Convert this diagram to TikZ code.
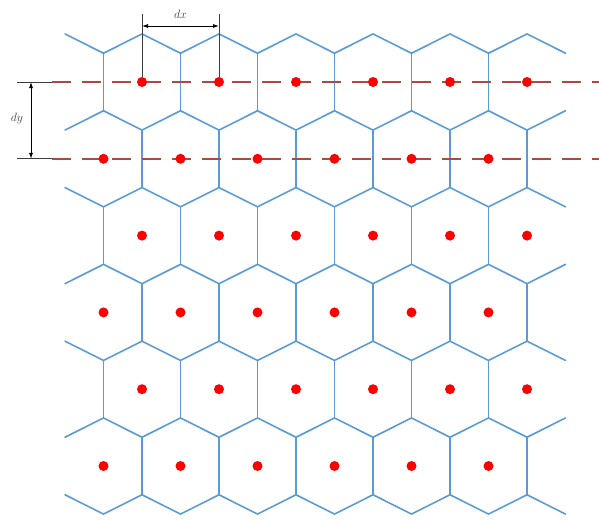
\documentclass[tikz,border=0pt]{standalone}
\usetikzlibrary{arrows.meta}
\definecolor{cellblue}{RGB}{91,155,213}
\definecolor{dashred}{RGB}{170,75,65}
\definecolor{dimgray}{RGB}{60,60,60}
\begin{document}
\begin{tikzpicture}[x=1pt,y=-1pt,
  cell/.style={draw=cellblue,line width=1.6pt,line join=round,line cap=round},
  dot/.style={circle,fill=red,minimum size=10pt,inner sep=0pt},
  guide/.style={draw=dashred,line width=1.8pt,dash pattern=on 19pt off 11pt},
  ext/.style={draw=dimgray,line width=0.8pt},
  dimarrow/.style={draw=black,line width=0.8pt,{Latex[length=6pt,width=4pt]}-{Latex[length=6pt,width=4pt]}},
  lbl/.style={font=\fontsize{13}{14}\selectfont,text=black!75,inner sep=1pt}]
\useasboundingbox (0,0) rectangle (599,519);
\def\DX{77}
\def\DY{76.8}
\def\DD{28.75}
% vertical sides of the cells
\foreach \r in {1,...,6}{
  \pgfmathsetmacro{\yr}{82+(\r-1)*\DY}
  \pgfmathsetmacro{\xo}{mod(\r,2)==1 ? 103.5 : 142}
  \foreach \k in {0,...,5}{
    \draw[cell] ({\xo+\k*\DX},{\yr-\DD}) -- ({\xo+\k*\DX},{\yr+\DD});
  }
}
% zigzag rows of the cells
\foreach \i in {0,...,6}{
  \pgfmathsetmacro{\yu}{82+(\i-1)*\DY+\DD}
  \pgfmathsetmacro{\yl}{82+\i*\DY-\DD}
  \draw[cell] (65,{\yu+(\yl-\yu)*mod(\i,2)})
    \foreach \j in {1,...,13}{ -- ({65+38.5*\j},{\yu+(\yl-\yu)*mod(\j+\i,2)}) };
}
% dashed guide lines
\coordinate (g1s) at (52,82);
\coordinate (g1e) at (599,82);
\coordinate (g2s) at (52,158.8);
\coordinate (g2e) at (599,158.8);
\draw[guide] (g1s) -- (g1e);
\draw[guide] (g2s) -- (g2e);
% dots
\foreach \r in {1,...,6}{
  \pgfmathsetmacro{\yr}{82+(\r-1)*\DY}
  \pgfmathsetmacro{\xo}{mod(\r,2)==1 ? 142 : 103.5}
  \foreach \k in {0,...,5}{
    \node[dot] (p-\r-\k) at ({\xo+\k*\DX},\yr) {};
  }
}
% dx dimension
\coordinate (dxa) at (142,14);
\coordinate (dxb) at (219,14);
\coordinate (dxa2) at (142,26);
\coordinate (dxb2) at (219,26);
\draw[ext] (dxa) -- (p-1-0.north);
\draw[ext] (dxb) -- (p-1-1.north);
\draw[dimarrow] (dxa2) -- (dxb2);
\node[lbl] (dxl) at (180.5,14) {$dx$};
% dy dimension
\coordinate (dya) at (17,82);
\coordinate (dyb) at (17,158.8);
\coordinate (dya2) at (31,82);
\coordinate (dyb2) at (31,158.8);
\draw[ext] (dya) -- (g1s);
\draw[ext] (dyb) -- (g2s);
\draw[dimarrow] (dya2) -- (dyb2);
\node[lbl] (dyl) at (17,118) {$dy$};
\end{tikzpicture}
\end{document}
